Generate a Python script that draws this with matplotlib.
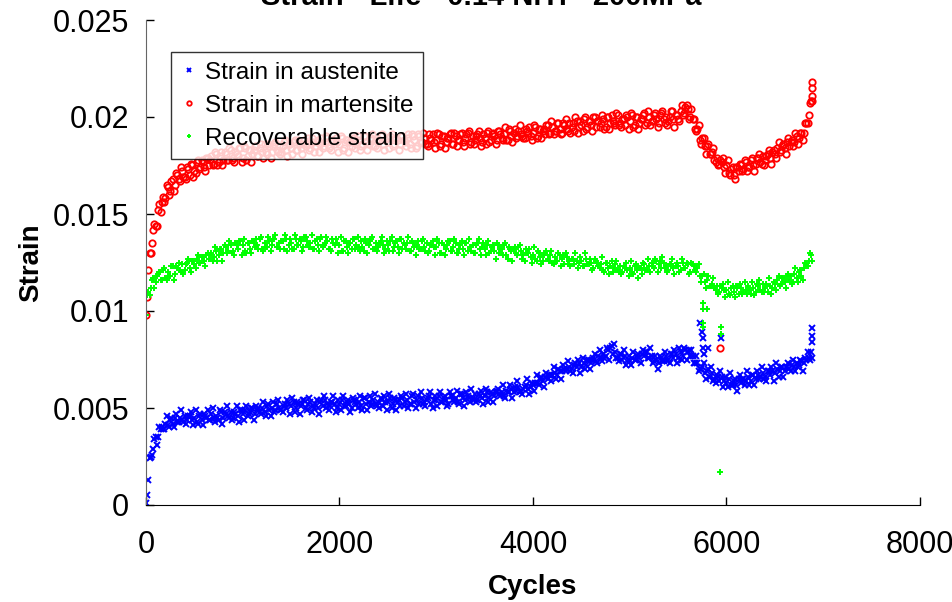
import numpy as np
from matplotlib import pyplot as plt

plt.rcParams['font.family'] = ['Liberation Sans', 'DejaVu Sans']

# two interleaved samplings of the scatter bands: every 25 cycles, 0..6875,
# and a second pass shifted by half a step
cycles = np.arange(0, 6900, 25)
cycles_b = cycles + 12.5

# strain values, in units of 1e-4
austenite = [
    1, 13, 25, 29, 35, 35, 39, 39, 42, 41, 44, 42, 45, 43, 45, 44, 46, 44, 46, 44,
    45, 43, 46, 44, 47, 45, 44, 47, 45, 46, 44, 48, 45, 47, 46, 48, 45, 47, 46, 49,
    47, 49, 46, 48, 50, 47, 49, 48, 50, 48, 51, 49, 50, 48, 52, 50, 49, 51, 50, 52,
    51, 53, 50, 52, 51, 54, 50, 52, 53, 51, 52, 50, 53, 51, 54, 52, 51, 53, 52, 50,
    52, 54, 51, 53, 52, 50, 54, 52, 53, 51, 55, 52, 53, 51, 54, 52, 53, 55, 51, 53,
    53, 55, 52, 54, 53, 51, 55, 53, 54, 52, 56, 53, 54, 52, 55, 53, 54, 56, 52, 54,
    54, 56, 53, 55, 54, 52, 56, 54, 55, 53, 57, 55, 54, 56, 53, 55, 57, 54, 56, 55,
    56, 58, 55, 57, 56, 59, 57, 58, 56, 59, 58, 60, 58, 59, 61, 59, 60, 62, 60, 61,
    62, 63, 63, 65, 64, 66, 65, 67, 67, 68, 67, 69, 69, 70, 70, 71, 70, 72, 71, 73,
    71, 73, 72, 75, 73, 76, 74, 77, 76, 78, 77, 80, 81, 78, 79, 76, 78, 75, 77, 74,
    74, 76, 75, 77, 76, 78, 77, 79, 76, 77, 74, 75, 73, 76, 74, 77, 75, 78, 76, 78,
    76, 79, 77, 80, 79, 77, 77, 73, 73, 70, 71, 68, 69, 66, 68, 65, 67, 64, 66, 64,
    63, 65, 62, 64, 62, 65, 63, 65, 64, 66, 64, 67, 65, 67, 66, 68, 66, 69, 67, 69,
    68, 70, 69, 71, 69, 71, 70, 72, 71, 73, 72, 74, 73, 75, 76, 79,
]
austenite_b = [
    5, 24, 26, 34, 31, 40, 40, 39, 46, 40, 45, 40, 47, 43, 49, 43, 42, 46, 48, 41,
    49, 42, 47, 41, 46, 49, 44, 50, 43, 45, 49, 42, 48, 51, 45, 44, 48, 51, 43, 49,
    44, 51, 47, 50, 44, 51, 50, 47, 53, 46, 52, 46, 53, 49, 54, 49, 48, 52, 54, 47,
    55, 48, 53, 47, 52, 54, 49, 55, 48, 50, 54, 47, 54, 56, 50, 49, 53, 56, 48, 54,
    49, 56, 51, 54, 48, 55, 53, 50, 56, 49, 55, 49, 56, 52, 57, 51, 50, 54, 56, 49,
    57, 50, 55, 49, 54, 56, 51, 57, 50, 52, 57, 50, 56, 58, 52, 51, 55, 58, 50, 56,
    51, 58, 53, 56, 51, 58, 56, 53, 59, 52, 57, 51, 58, 55, 60, 54, 53, 57, 59, 52,
    60, 53, 58, 53, 58, 60, 56, 62, 55, 58, 62, 55, 61, 64, 58, 57, 61, 65, 57, 63,
    59, 67, 62, 66, 61, 68, 67, 64, 71, 65, 70, 65, 72, 69, 74, 69, 68, 73, 75, 68,
    76, 70, 75, 70, 75, 78, 73, 80, 74, 76, 81, 75, 82, 83, 76, 74, 78, 80, 72, 77,
    72, 79, 75, 78, 73, 80, 79, 76, 81, 73, 77, 70, 77, 74, 79, 74, 73, 78, 80, 73,
    81, 75, 81, 75, 80, 80, 73, 77, 69, 70, 73, 65, 70, 71, 64, 63, 66, 69, 61, 66,
    61, 68, 62, 65, 59, 67, 65, 62, 69, 62, 67, 62, 69, 65, 71, 65, 64, 69, 71, 64,
    73, 66, 71, 66, 71, 73, 69, 75, 69, 71, 75, 69, 76, 79, 75, 76,
]
martensite = [
    98, 121, 130, 142, 144, 152, 151, 159, 158, 164, 162, 168, 165, 170, 167, 172, 169, 174, 170, 175,
    172, 177, 173, 178, 174, 179, 175, 180, 176, 181, 177, 182, 178, 181, 178, 183, 179, 182, 180, 184,
    179, 184, 180, 183, 181, 185, 180, 184, 182, 186, 181, 185, 182, 186, 183, 185, 182, 187, 183, 186,
    184, 187, 183, 188, 184, 186, 185, 189, 184, 187, 185, 188, 186, 184, 187, 189, 185, 188, 186, 187,
    186, 189, 184, 188, 187, 185, 189, 186, 188, 185, 190, 187, 186, 189, 185, 188, 187, 190, 186, 188,
    187, 190, 185, 189, 188, 186, 190, 187, 189, 186, 191, 188, 185, 190, 187, 189, 186, 191, 188, 187,
    188, 191, 186, 190, 187, 189, 192, 186, 190, 188, 191, 187, 189, 192, 186, 190, 188, 191, 189, 187,
    189, 192, 187, 191, 190, 188, 193, 189, 191, 188, 194, 190, 192, 189, 193, 191, 189, 194, 192, 190,
    192, 195, 190, 194, 193, 191, 196, 192, 195, 193, 197, 194, 192, 196, 194, 197, 195, 193, 198, 195,
    196, 199, 194, 198, 196, 200, 195, 198, 197, 199, 195, 200, 197, 198, 196, 201, 197, 199, 196, 200,
    198, 201, 196, 200, 197, 199, 202, 197, 200, 198, 201, 199, 197, 202, 199, 200, 198, 203, 199, 201,
    199, 203, 201, 205, 204, 200, 199, 194, 194, 188, 189, 185, 185, 181, 182, 178, 179, 176, 177, 174,
    175, 171, 173, 170, 174, 172, 175, 173, 177, 174, 178, 175, 176, 179, 177, 180, 178, 181, 179, 182,
    181, 184, 182, 185, 184, 187, 185, 188, 187, 190, 189, 192, 192, 197, 201, 208,
]
martensite_b = [
    107, 130, 135, 145, 144, 155, 156, 156, 165, 160, 167, 162, 171, 168, 174, 169, 168, 173, 176, 169,
    171, 178, 174, 177, 172, 179, 178, 175, 182, 175, 180, 175, 182, 178, 184, 178, 177, 181, 184, 177,
    185, 178, 183, 177, 183, 185, 180, 186, 179, 182, 186, 179, 185, 187, 182, 181, 185, 188, 180, 186,
    181, 188, 183, 186, 181, 188, 186, 183, 189, 182, 187, 182, 189, 185, 190, 184, 183, 187, 189, 182,
    190, 183, 188, 182, 187, 189, 184, 190, 183, 186, 190, 183, 189, 191, 185, 184, 188, 191, 183, 189,
    184, 191, 186, 189, 183, 190, 188, 185, 191, 184, 190, 184, 191, 187, 192, 186, 185, 189, 191, 184,
    192, 185, 190, 184, 189, 191, 186, 192, 185, 188, 192, 185, 191, 193, 187, 186, 190, 193, 185, 191,
    186, 193, 188, 192, 186, 193, 191, 188, 195, 188, 193, 187, 194, 190, 196, 190, 189, 193, 195, 188,
    196, 189, 194, 189, 194, 196, 191, 198, 191, 193, 197, 191, 197, 199, 193, 192, 197, 200, 192, 198,
    193, 200, 195, 198, 193, 200, 198, 195, 201, 194, 200, 194, 201, 197, 202, 196, 195, 199, 201, 194,
    202, 195, 200, 194, 199, 201, 196, 203, 196, 198, 202, 195, 201, 203, 197, 196, 200, 203, 195, 201,
    198, 206, 202, 206, 199, 204, 199, 193, 196, 186, 189, 181, 186, 181, 184, 177, 175, 178, 179, 171,
    178, 170, 174, 168, 174, 176, 172, 178, 172, 174, 179, 172, 179, 181, 176, 175, 180, 183, 176, 183,
    179, 187, 183, 186, 181, 189, 187, 185, 192, 186, 192, 188, 197, 197, 207, 208,
]
recoverable = [
    98, 110, 112, 117, 115, 119, 116, 121, 117, 120, 118, 123, 119, 122, 121, 124, 121, 125, 122, 126,
    124, 127, 125, 128, 126, 129, 127, 130, 128, 131, 129, 132, 130, 133, 131, 134, 131, 135, 132, 136,
    134, 131, 135, 132, 136, 133, 134, 137, 132, 135, 133, 136, 134, 137, 133, 135, 136, 132, 137, 134,
    135, 132, 137, 134, 136, 133, 138, 134, 135, 132, 136, 134, 137, 133, 135, 136, 132, 137, 134, 135,
    134, 131, 136, 133, 135, 132, 137, 134, 133, 136, 131, 135, 134, 137, 132, 135, 133, 136, 134, 132,
    134, 136, 131, 135, 133, 137, 132, 134, 135, 131, 136, 133, 134, 132, 136, 133, 135, 131, 134, 133,
    133, 135, 130, 134, 132, 136, 131, 133, 135, 130, 134, 132, 135, 131, 133, 134, 130, 135, 132, 133,
    132, 134, 130, 133, 131, 135, 130, 132, 134, 129, 133, 131, 132, 130, 133, 131, 129, 132, 130, 128,
    129, 127, 131, 128, 126, 130, 127, 129, 125, 128, 126, 129, 127, 124, 128, 126, 127, 124, 126, 125,
    126, 123, 127, 124, 125, 122, 126, 123, 124, 121, 125, 122, 123, 120, 124, 121, 123, 120, 122, 121,
    122, 120, 123, 121, 122, 119, 124, 121, 123, 125, 122, 126, 124, 122, 125, 123, 121, 124, 122, 123,
    123, 121, 125, 122, 124, 120, 124, 121, 122, 118, 118, 115, 116, 113, 114, 112, 113, 110, 112, 111,
    111, 109, 112, 110, 113, 109, 112, 110, 111, 113, 109, 112, 110, 113, 111, 114, 112, 110, 113, 112,
    114, 116, 113, 117, 115, 118, 116, 114, 119, 117, 120, 118, 122, 124, 126, 129,
]
recoverable_b = [
    108, 108, 116, 112, 118, 120, 116, 122, 116, 118, 123, 116, 123, 125, 120, 119, 124, 127, 120, 126,
    122, 129, 125, 128, 123, 130, 129, 126, 133, 126, 132, 126, 134, 130, 136, 130, 129, 134, 136, 129,
    137, 130, 135, 130, 135, 137, 132, 138, 131, 133, 138, 131, 137, 139, 133, 132, 136, 139, 131, 137,
    132, 139, 134, 137, 131, 138, 136, 133, 139, 132, 137, 131, 138, 134, 138, 132, 131, 135, 137, 130,
    138, 131, 136, 130, 135, 137, 132, 138, 131, 133, 137, 130, 136, 138, 132, 131, 135, 138, 130, 136,
    131, 138, 133, 136, 130, 137, 135, 132, 138, 131, 135, 129, 136, 132, 137, 131, 130, 134, 136, 129,
    137, 130, 135, 129, 134, 136, 131, 137, 130, 132, 136, 129, 135, 137, 131, 130, 134, 137, 129, 135,
    129, 136, 131, 134, 127, 134, 132, 129, 135, 127, 132, 126, 133, 129, 134, 127, 126, 130, 132, 125,
    133, 126, 130, 124, 129, 131, 126, 131, 124, 126, 130, 123, 129, 130, 124, 123, 127, 130, 122, 128,
    123, 130, 124, 127, 121, 127, 125, 122, 128, 120, 125, 119, 126, 122, 126, 120, 119, 123, 125, 118,
    126, 119, 124, 117, 122, 125, 121, 127, 120, 123, 127, 120, 126, 128, 122, 120, 124, 127, 119, 125,
    120, 127, 122, 125, 119, 125, 123, 120, 124, 115, 119, 112, 118, 113, 117, 111, 109, 113, 114, 107,
    115, 108, 113, 107, 112, 114, 109, 115, 109, 111, 115, 108, 114, 116, 110, 110, 114, 117, 109, 115,
    111, 118, 114, 117, 112, 119, 118, 115, 122, 115, 121, 116, 125, 123, 130, 126,
]

# stray points around 5750 / 5930 cycles and at the last cycles
aus_out_x = [5730, 5750, 5755, 5760, 5810, 5765, 5940, 6885, 6880, 6882]
aus_out_y = [94, 89, 86, 81, 81, 78, 86, 91, 87, 84]
mar_out_x = [5935, 6880, 6882, 6884]
mar_out_y = [81, 211, 215, 218]
rec_out_x = [5755, 5757, 5758, 5760, 5800, 5940, 5942, 5935]
rec_out_y = [104, 101, 94, 92, 101, 92, 88, 17]

fig = plt.figure(figsize=(9.53, 6.02), dpi=100)
ax = fig.add_axes([146 / 953, 97 / 602, 774 / 953, 485 / 602])

sc = 1e-4
aus_style = dict(marker='x', linestyle='none', color='#0000ff', markersize=4.2, mew=1.4)
mar_style = dict(marker='o', linestyle='none', mfc='none', mec='#ff0000', markersize=4.6, mew=1.3)
rec_style = dict(marker='+', linestyle='none', color='#00ff00', markersize=5.0, mew=1.4)

ax.plot(cycles, np.array(austenite) * sc, label='Strain in austenite', **aus_style)
ax.plot(cycles_b, np.array(austenite_b) * sc, **aus_style)
ax.plot(aus_out_x, np.array(aus_out_y) * sc, **aus_style)
ax.plot(cycles, np.array(martensite) * sc, label='Strain in martensite', **mar_style)
ax.plot(cycles_b, np.array(martensite_b) * sc, **mar_style)
ax.plot(mar_out_x, np.array(mar_out_y) * sc, **mar_style)
ax.plot(cycles, np.array(recoverable) * sc, label='Recoverable strain', **rec_style)
ax.plot(cycles_b, np.array(recoverable_b) * sc, **rec_style)
ax.plot(rec_out_x, np.array(rec_out_y) * sc, **rec_style)

ax.set_xlim(0, 8000)
ax.set_ylim(0, 0.025)
ax.set_xticks([0, 2000, 4000, 6000, 8000])
ax.set_yticks([0, 0.005, 0.01, 0.015, 0.02, 0.025])
ax.set_yticklabels(['0', '0.005', '0.01', '0.015', '0.02', '0.025'])

ax.spines['top'].set_visible(False)
ax.spines['right'].set_visible(False)
ax.spines['left'].set_color('#666666')
ax.spines['bottom'].set_color('black')
ax.tick_params(axis='both', direction='in', length=6, width=1, labelsize=22)
ax.tick_params(axis='x', pad=18)
ax.tick_params(axis='y', pad=12)

ax.set_xlabel('Cycles', fontsize=20, fontweight='bold', labelpad=10)
ax.set_ylabel('Strain', fontsize=20, fontweight='bold', labelpad=6)

fig.text(0.505, 1 - 5 / 602, 'Strain - Life - 0.14 NiTi - 200MPa', ha='center', va='baseline',
         fontsize=21, fontweight='bold')

leg = ax.legend(loc='upper left', bbox_to_anchor=(0.032, 0.934), borderaxespad=0,
                fontsize=17.5, frameon=True, fancybox=False, edgecolor='black',
                handlelength=0.7, handletextpad=0.3, labelspacing=0.45, borderpad=0.4,
                markerscale=0.7)
leg.get_frame().set_linewidth(1)

fig.savefig('out.png', dpi=100)
